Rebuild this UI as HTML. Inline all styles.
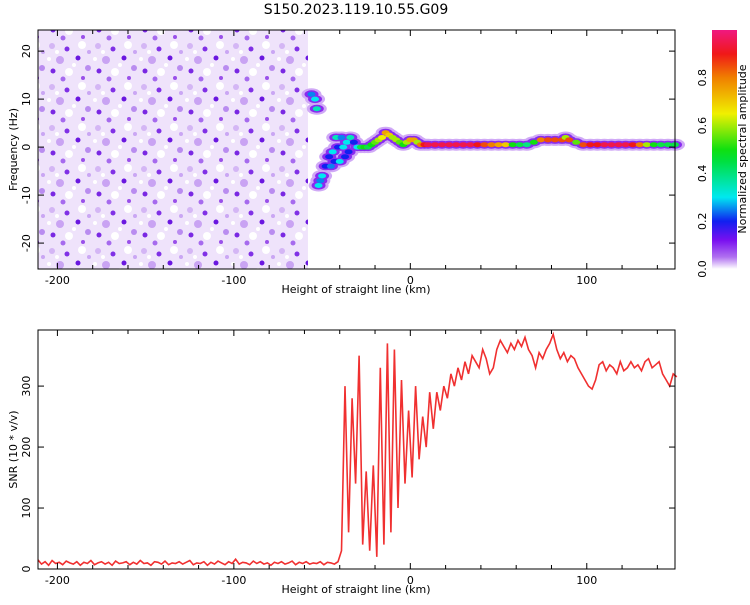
<!DOCTYPE html>
<html><head><meta charset="utf-8"><style>
body{margin:0;background:#fff;font-family:"Liberation Sans","DejaVu Sans",sans-serif}
svg text{font-family:"DejaVu Sans","Liberation Sans",sans-serif;font-size:11px;fill:#000}
</style></head><body>
<svg id="c" width="750" height="600" xmlns="http://www.w3.org/2000/svg">
<defs>
<pattern id="speck" width="46" height="41" patternUnits="userSpaceOnUse">
<rect width="46" height="41" fill="#efe3fb"/>
<circle cx="6" cy="5" r="3" fill="#d4b6f5"/><circle cx="21" cy="8" r="2.5" fill="#8030e6"/>
<circle cx="36" cy="4" r="4" fill="#fff"/><circle cx="14" cy="19" r="4" fill="#c9a3f3"/>
<circle cx="32" cy="17" r="2.5" fill="#6a17e0"/><circle cx="42" cy="27" r="3" fill="#b98cf0"/>
<circle cx="7" cy="30" r="2.5" fill="#7a28e3"/><circle cx="23" cy="31" r="4" fill="#fff"/>
<circle cx="37" cy="37" r="2" fill="#9a50ea"/><circle cx="3" cy="18" r="2" fill="#fff"/>
<circle cx="28" cy="24" r="2" fill="#fff"/><circle cx="17" cy="38" r="2.5" fill="#a66aee"/>
<circle cx="43" cy="11" r="2" fill="#caa6f4"/><circle cx="11" cy="11" r="2" fill="#fff"/>
</pattern>
<linearGradient id="cb" x1="0" y1="1" x2="0" y2="0">
<stop offset="0" stop-color="#ffffff"/><stop offset="0.05" stop-color="#b070f0"/>
<stop offset="0.12" stop-color="#7a10f0"/><stop offset="0.2" stop-color="#1020f0"/>
<stop offset="0.3" stop-color="#00e8f0"/><stop offset="0.45" stop-color="#00e040"/>
<stop offset="0.5" stop-color="#10e010"/><stop offset="0.65" stop-color="#f0f000"/>
<stop offset="0.8" stop-color="#f08000"/><stop offset="0.9" stop-color="#f01818"/>
<stop offset="1" stop-color="#f01880"/>
</linearGradient>
</defs>
<text x="356" y="14" text-anchor="middle" style="font-size:14px">S150.2023.119.10.55.G09</text>
<g id="top"></g><g id="bot"></g>
<rect x="712" y="30" width="25" height="239" fill="url(#cb)"/>
<text transform="translate(746,149) rotate(-90)" text-anchor="middle">Normalized spectral amplitude</text>
<g id="cbt"></g>
</svg>
<script>
const xTicks=[-200,-100,0,100];
const fTicks=[-20,-10,0,10,20];
const snrTicks=[0,100,200,300];
const cbTicks=[0.0,0.2,0.4,0.6,0.8];
const noiseX=[-211,-58];
// spectral track: x km, freq Hz, amplitude
const trkX=[-56,-54,-53,-52,-51,-50,-48,-46,-45,-44,-43,-42,-41,-40,-39,-38,-37,-36,-35,-34,-32,-30,-28,-26,-24,-22,-20,-18,-16,-14,-12,-10,-8,-6,-4,-2,0,2,4,6,8,10,14,18,22,26,30,34,38,42,46,50,54,58,62,66,70,74,78,82,86,88,90,94,98,102,106,110,114,118,122,126,130,134,138,142,146,150];
const trkF=[11,10,8,-8,-7,-6,-4,-2,-4,-1,-3,2,0,-3,2,0,-2,1,-1,2,1,0,0,0,0,0.5,1,1.5,2,3,2.5,2,1.5,1,0.5,1,1.5,1.5,1,0.5,0.5,0.5,0.5,0.5,0.5,0.5,0.5,0.5,0.5,0.5,0.5,0.5,0.5,0.5,0.5,0.5,1,1.5,1.5,1.5,1.5,2,1.5,1,0.5,0.5,0.5,0.5,0.5,0.5,0.5,0.5,0.5,0.5,0.5,0.5,0.5,0.5];
const trkA=[0.25,0.3,0.35,0.3,0.25,0.3,0.2,0.2,0.25,0.3,0.2,0.35,0.2,0.3,0.25,0.3,0.2,0.3,0.2,0.35,0.2,0.3,0.45,0.5,0.45,0.5,0.55,0.6,0.65,0.75,0.7,0.6,0.6,0.55,0.5,0.6,0.75,0.75,0.6,0.8,0.9,0.95,0.95,0.95,0.95,0.95,0.95,0.95,0.9,0.85,0.8,0.75,0.7,0.5,0.45,0.4,0.5,0.8,0.85,0.85,0.85,0.6,0.85,0.55,0.85,0.9,0.9,0.95,0.95,0.95,0.95,0.9,0.8,0.6,0.5,0.45,0.45,0.45];
const snrX0=-211, snrStep=2;
const snr=[15,8,12,6,14,9,11,7,13,10,8,12,6,11,9,14,7,10,12,8,11,6,13,9,10,12,7,11,8,14,9,10,6,12,11,8,13,7,10,9,12,8,11,14,7,10,9,12,6,11,8,13,10,7,12,9,16,8,11,10,7,13,9,12,8,10,6,11,9,12,8,10,13,7,11,9,12,8,10,9,12,7,11,10,8,12,
30,300,60,280,140,350,40,160,30,170,20,330,40,370,60,360,100,310,140,260,150,300,180,250,200,290,230,290,260,300,280,320,300,330,310,340,320,350,340,330,360,345,320,330,360,375,365,355,370,360,375,365,380,360,350,330,355,345,360,370,385,360,345,355,340,350,345,330,320,310,300,295,310,335,340,325,335,330,320,340,325,330,340,330,335,325,340,345,330,335,340,320,310,300,320,315];
const NS='http://www.w3.org/2000/svg';
function mk(t,a,p){const e=document.createElementNS(NS,t);for(const k in a)e.setAttribute(k,a[k]);(p||svg).appendChild(e);return e;}
const svg=document.getElementById('c');
const L=38,R=675,T1=30,B1=269,T2=330,B2=569;
const X=v=>L+(v+211)/361*(R-L);
const YF=v=>T1+(24.4-v)/(24.4+25.4)*(B1-T1);
const YS=v=>B2-v/392*(B2-T2);
function col(a){const s=[[0,[255,255,255]],[0.05,[176,112,240]],[0.12,[122,16,240]],[0.2,[16,32,240]],[0.3,[0,232,240]],[0.5,[16,224,16]],[0.65,[240,240,0]],[0.8,[240,128,0]],[0.9,[240,24,24]],[1,[240,24,128]]];
for(let i=1;i<s.length;i++)if(a<=s[i][0]){const t=(a-s[i-1][0])/(s[i][0]-s[i-1][0]);const c=s[i-1][1].map((v,j)=>Math.round(v+(s[i][1][j]-v)*t));return `rgb(${c})`;}return 'rgb(240,24,128)';}
function frame(g,T,B,yt,yf,ylab,name){
  mk('rect',{x:L,y:T,width:R-L,height:B-T,fill:'none',stroke:'#000','stroke-width':1,},g);
  for(let v=-200;v<=140;v+=20){const x=X(v);const big=v%100===0;const l=big?6:4;
    mk('line',{x1:x,y1:B,x2:x,y2:B-l,stroke:'#000'},g);mk('line',{x1:x,y1:T,x2:x,y2:T+l,stroke:'#000'},g);}
  xTicks.forEach(v=>{const t=mk('text',{x:X(v),y:B+15,'text-anchor':'middle'},g);t.textContent=v;
    });
  const xl=mk('text',{x:356,y:B+24,'text-anchor':'middle'},g);xl.textContent='Height of straight line (km)';
  
  yt.forEach(v=>{const y=yf(v);mk('line',{x1:L,y1:y,x2:L+6,y2:y,stroke:'#000'},g);mk('line',{x1:R,y1:y,x2:R-6,y2:y,stroke:'#000'},g);
    const t=mk('text',{transform:`translate(${L-8},${y}) rotate(-90)`,'text-anchor':'middle'},g);t.textContent=v;
    });
  const yl=mk('text',{transform:`translate(17,${(T+B)/2}) rotate(-90)`,'text-anchor':'middle'},g);yl.textContent=ylab;
  
}
const gt=document.getElementById('top');
const nz=mk('rect',{x:X(noiseX[0]),y:T1,width:X(noiseX[1])-X(noiseX[0]),height:B1-T1,fill:'url(#speck)'},gt);

const gk=mk('g',{},gt);
[[10,6,0.03],[7,4,0.1]].forEach(([rx,ry,a])=>trkX.forEach((x,i)=>{mk('ellipse',{cx:X(x),cy:YF(trkF[i]),rx:rx,ry:ry,fill:col(Math.min(a,trkA[i]))},gk);}));
trkX.forEach((x,i)=>{const e=mk('ellipse',{cx:X(x),cy:YF(trkF[i]),rx:4,ry:2.5,fill:col(trkA[i])},gk);
  });
frame(gt,T1,B1,fTicks,YF,'Frequency (Hz)','spectrogram');
const gb=document.getElementById('bot');
const pts=snr.map((v,i)=>X(snrX0+i*snrStep).toFixed(1)+','+YS(v).toFixed(1)).join(' ');
const pl=mk('polyline',{points:pts,fill:'none',stroke:'#f03030','stroke-width':1.6},gb);

frame(gb,T2,B2,snrTicks,YS,'SNR (10 * v/v)','snr');
const gc=document.getElementById('cbt');
cbTicks.forEach(v=>{const y=269-v*239;const t=mk('text',{transform:`translate(706,${y}) rotate(-90)`,'text-anchor':'middle'},gc);t.textContent=v.toFixed(1);
  });
</script>
</body></html>
